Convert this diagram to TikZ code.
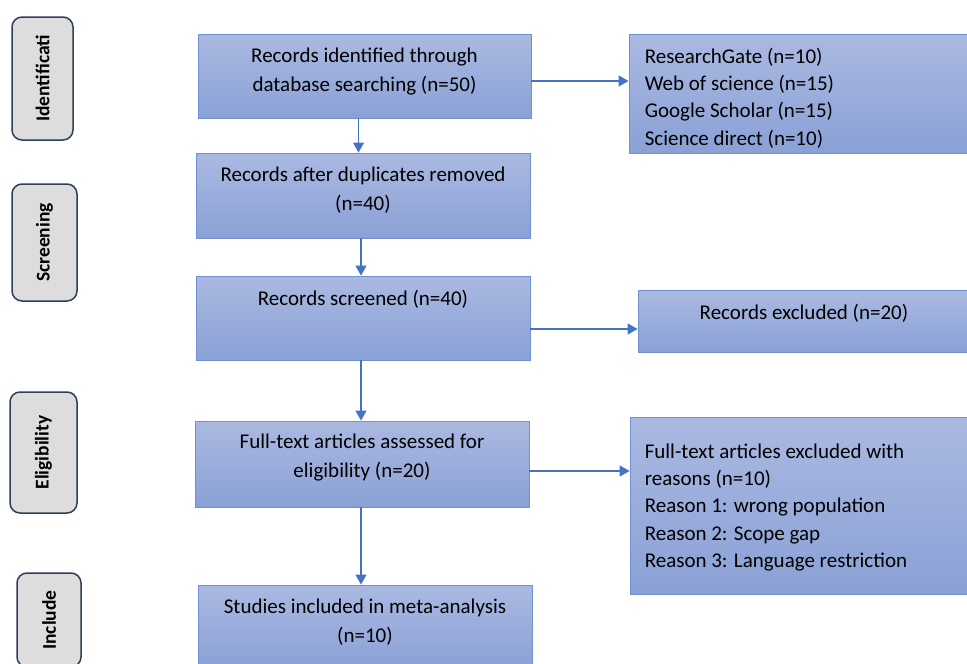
\documentclass[tikz,border=0pt]{standalone}
\usepackage{fontspec}
\setmainfont{Carlito}
\usetikzlibrary{positioning,arrows.meta}
\definecolor{pboxtop}{HTML}{AAB9E1}
\definecolor{pboxbottom}{HTML}{8AA1D6}
\definecolor{pboxline}{HTML}{7090D2}
\definecolor{parrowline}{HTML}{4472C4}
\definecolor{pstagefill}{HTML}{DDDDDD}
\definecolor{pstageline}{HTML}{2F3F55}
\tikzset{pbox/.style={rectangle, draw=pboxline, line width=0.9pt, top color=pboxtop, bottom color=pboxbottom, inner sep=0pt}}
\tikzset{ptext/.style={inner sep=0pt, align=center, font=\fontsize{21}{29}\selectfont}}
\tikzset{plist/.style={inner sep=0pt, align=left, font=\fontsize{21}{27.3}\selectfont}}
\tikzset{pstage/.style={rectangle, rounded corners=10pt, draw=pstageline, line width=1.5pt, fill=pstagefill, rotate=90, inner sep=0pt, font=\fontsize{19.5}{22}\selectfont\bfseries}}
\tikzset{parrow/.style={-{Triangle[length=10pt, width=11pt]}, draw=parrowline, line width=1.1pt}}

\begin{document}
\begin{tikzpicture}[x=1pt, y=-1pt]
  \useasboundingbox (0,0) rectangle (967,664);

  \node[pstage, minimum width=123pt, minimum height=61pt] (stident) at (42.5,78.5) {Identificati};
  \node[pstage, minimum width=117pt, minimum height=65pt] (stscreen) at (44.5,242.5) {Screening};
  \node[pstage, minimum width=121pt, minimum height=67pt] (stelig) at (43.5,452.5) {Eligibility};
  \node[pstage, minimum width=94pt, minimum height=64pt] (stincl) at (49,620) {Include};

  \node[pbox, minimum width=333pt, minimum height=84pt] (ident) at (364.5,76) {};
  \node[pbox, minimum width=334pt, minimum height=85pt] (dedup) at (363,195.5) {};
  \node[pbox, minimum width=334pt, minimum height=84pt] (screen) at (363,318) {};
  \node[pbox, minimum width=334pt, minimum height=86pt] (elig) at (362,464) {};
  \node[pbox, minimum width=334pt, minimum height=84pt] (incl) at (365,627) {};

  \node[pbox, minimum width=341pt, minimum height=119pt] (sources) at (799.5,93.5) {};
  \node[pbox, minimum width=332pt, minimum height=62pt] (excl) at (804,321) {};
  \node[pbox, minimum width=340pt, minimum height=177pt] (reasons) at (800,505.5) {};

  \node[ptext, below=14pt of ident.north] (identtxt) {Records identified through\\database searching (n=50)};
  \node[ptext, below=14pt of dedup.north] (deduptxt) {Records after duplicates removed\\(n=40)};
  \node[ptext, below=14pt of screen.north] (screentxt) {Records screened (n=40)};
  \node[ptext, below=13pt of elig.north] (eligtxt) {Full-text articles assessed for\\eligibility (n=20)};
  \node[ptext, below=14pt of incl.north] (incltxt) {Studies included in meta-analysis\\(n=10)};

  \node[plist, below right=14pt and 16pt of sources.north west] (sourcestxt) {ResearchGate (n=10)\\Web of science (n=15)\\Google Scholar (n=15)\\Science direct (n=10)};
  \node[ptext, below=14pt of excl.north] (excltxt) {Records excluded (n=20)};
  \node[plist, below right=27pt and 15pt of reasons.north west] (reasonstxt) {Full-text articles excluded with\\reasons (n=10)\\Reason 1: wrong population\\Reason 2: Scope gap\\Reason 3: Language restriction};

  \draw[parrow] ([xshift=-6pt]ident.south) -- ([xshift=-6pt]ident.south |- dedup.north);
  \draw[parrow] ([xshift=-2pt]dedup.south) -- ([xshift=-2pt]dedup.south |- screen.north);
  \draw[parrow] ([xshift=-2pt]screen.south) -- ([xshift=-2pt]screen.south |- elig.north);
  \draw[parrow] ([xshift=-1pt]elig.south) -- ([xshift=-1pt]elig.south |- incl.north);

  \draw[parrow] ([yshift=-5pt]ident.east) -- ([yshift=-5pt]ident.east -| sources.west);
  \draw[parrow] ([yshift=-11pt]screen.east) -- ([yshift=-11pt]screen.east -| excl.west);
  \draw[parrow] ([yshift=-7pt]elig.east) -- ([yshift=-7pt]elig.east -| reasons.west);
\end{tikzpicture}
\end{document}
